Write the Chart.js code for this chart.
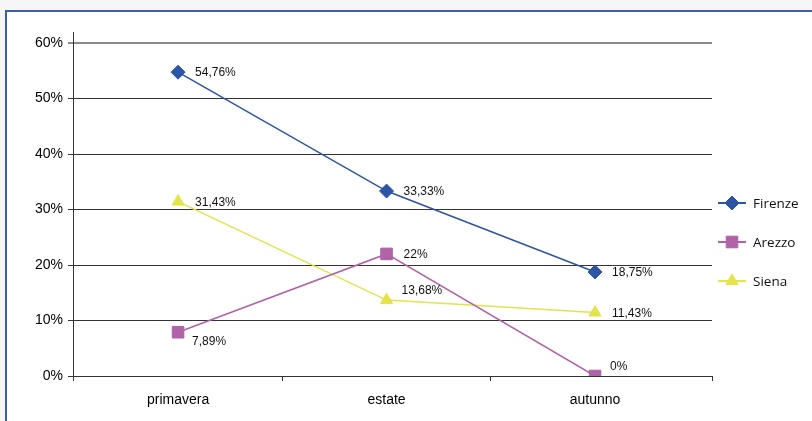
<!DOCTYPE html>
<html>
<head>
<meta charset="utf-8">
<script src="https://cdn.jsdelivr.net/npm/chart.js@4.4.1/dist/chart.umd.min.js"></script>
<style>
  html, body { margin: 0; padding: 0; width: 812px; height: 421px; overflow: hidden; background: #f6f6f6; }
  #frame { position: absolute; left: 5px; top: 10px; width: 840px; height: 440px;
           border: 2px solid #3d5ea8; background: #ffffff; box-sizing: border-box; }
  #chart { position: absolute; left: 0; top: 0; }
</style>
</head>
<body>
<div id="frame"></div>
<canvas id="chart" width="812" height="421"></canvas>
<script>
// Seasons on the x axis
const categories = ['primavera', 'estate', 'autunno'];

// Share per season, in percent
const firenze = [54.76, 33.33, 18.75];
const arezzo  = [7.89, 22, 0];
const siena   = [31.43, 13.68, 11.43];

// Y axis tick values, in percent
const yTicks = [0, 10, 20, 30, 40, 50, 60];

const seriesNames = ['Firenze', 'Arezzo', 'Siena'];
const seriesValues = [firenze, arezzo, siena];

// Look of each series
const seriesStyle = [
  { color: '#2d55a5', pointStyle: 'rectRot',  radius: 7 },
  { color: '#b162a8', pointStyle: 'rect',     radius: 8.2 },
  { color: '#e3e34a', pointStyle: 'triangle', radius: 7 }
];

// Where each value label sits relative to its marker
const labelPlacement = [
  ['right', 'right', 'right'],
  ['below', 'right', 'above'],
  ['right', 'above', 'right']
];

const axisFont = { family: '"Liberation Sans", Arial, sans-serif', size: 14 };
const valueFont = '12px "Liberation Sans", Arial, sans-serif';
const legendFont = '13.5px "Open Sans", "Noto Sans", sans-serif';

const fmt = v => String(v).replace('.', ',') + '%';

const datasets = seriesNames.map((name, s) => ({
  label: name,
  data: seriesValues[s].map((v, i) => ({ x: i, y: v })),
  borderColor: seriesStyle[s].color,
  backgroundColor: seriesStyle[s].color,
  pointBackgroundColor: seriesStyle[s].color,
  pointBorderColor: seriesStyle[s].color,
  pointBorderWidth: 1,
  pointStyle: seriesStyle[s].pointStyle,
  pointRadius: seriesStyle[s].radius,
  pointHoverRadius: seriesStyle[s].radius,
  borderWidth: 1.5,
  tension: 0,
  fill: false
}));

// Value labels next to each marker
const valueLabels = {
  id: 'valueLabels',
  afterDatasetsDraw(chart) {
    const ctx = chart.ctx;
    ctx.save();
    ctx.font = valueFont;
    ctx.fillStyle = '#111';
    ctx.textAlign = 'left';
    ctx.textBaseline = 'middle';
    chart.data.datasets.forEach((ds, s) => {
      const meta = chart.getDatasetMeta(s);
      meta.data.forEach((pt, i) => {
        const txt = fmt(seriesValues[s][i]);
        const where = labelPlacement[s][i];
        let x = pt.x + 17, y = pt.y + 1;
        if (where === 'below') { x = pt.x + 14; y = pt.y + 9; }
        if (where === 'above') { x = pt.x + 15; y = pt.y - 9; }
        ctx.fillText(txt, x, y);
      });
    });
    ctx.restore();
  }
};

// Legend on the right: line sample with marker, then the name
const lineLegend = {
  id: 'lineLegend',
  afterDraw(chart) {
    const ctx = chart.ctx;
    const area = chart.chartArea;
    const x0 = area.right + 6, x1 = area.right + 34, mx = area.right + 20;
    const top = 203, gap = 39;
    ctx.save();
    chart.data.datasets.forEach((ds, s) => {
      const y = top + s * gap;
      ctx.strokeStyle = ds.borderColor;
      ctx.lineWidth = 2;
      ctx.beginPath();
      ctx.moveTo(x0, y);
      ctx.lineTo(x1, y);
      ctx.stroke();
      ctx.fillStyle = ds.borderColor;
      ctx.lineWidth = 1;
      Chart.helpers.drawPoint(ctx, {
        pointStyle: ds.pointStyle, radius: ds.pointRadius, rotation: 0, borderWidth: 1
      }, mx, y);
      ctx.fillStyle = '#111';
      ctx.font = legendFont;
      ctx.textAlign = 'left';
      ctx.textBaseline = 'middle';
      ctx.fillText(ds.label, area.right + 41, y + 1);
    });
    ctx.restore();
  }
};

const xMin = -0.504, xMax = 2.561;

new Chart(document.getElementById('chart'), {
  type: 'line',
  data: { datasets },
  plugins: [valueLabels, lineLegend],
  options: {
    responsive: false,
    animation: false,
    devicePixelRatio: 1,
    layout: { padding: { left: 23, right: 100, top: 32, bottom: 0 } },
    plugins: { legend: { display: false }, tooltip: { enabled: false } },
    scales: {
      x: {
        type: 'linear',
        min: xMin,
        max: xMax,
        afterBuildTicks: scale => {
          const vals = [xMin];
          categories.forEach((c, i) => { vals.push(i); if (i < categories.length - 1) vals.push(i + 0.5); });
          vals.push(xMax);
          scale.ticks = vals.map(v => ({ value: v }));
        },
        afterFit: scale => { scale.height = 45; },
        ticks: {
          autoSkip: false,
          maxRotation: 0,
          padding: 11,
          color: '#000',
          font: axisFont,
          callback: v => Number.isInteger(v) ? categories[v] : ''
        },
        grid: {
          drawOnChartArea: false,
          tickLength: 5,
          tickColor: ctx => (ctx.tick && Number.isInteger(ctx.tick.value)) ? 'rgba(0,0,0,0)' : '#333'
        },
        border: { color: '#333', width: 1 }
      },
      y: {
        min: 0,
        max: 62,
        afterBuildTicks: scale => { scale.ticks = yTicks.map(v => ({ value: v })); },
        afterFit: scale => { scale.width = 50; },
        ticks: {
          padding: 5,
          color: '#000',
          font: axisFont,
          callback: v => v + '%'
        },
        grid: {
          tickLength: 5,
          color: ctx => (ctx.tick && ctx.tick.value === 60) ? '#8a8a8a' : '#333',
          tickColor: ctx => (ctx.tick && ctx.tick.value === 60) ? '#8a8a8a' : '#333',
          lineWidth: ctx => (ctx.tick && ctx.tick.value === 60) ? 2 : 1
        },
        border: { color: '#333', width: 1 }
      }
    }
  }
});
</script>
</body>
</html>
